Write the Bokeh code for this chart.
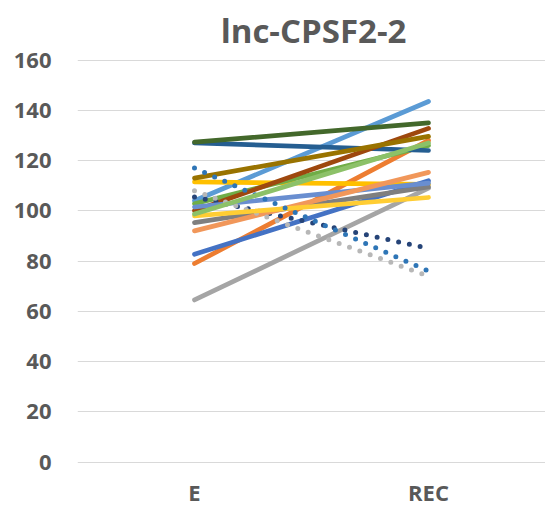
from bokeh.plotting import figure
from bokeh.models import Range1d, FactorRange, FixedTicker, Label, LabelSet, ColumnDataSource
from bokeh.core.properties import value
from bokeh.embed import file_html
from bokeh.resources import INLINE

categories = ["E", "REC"]
y_ticks = [0, 20, 40, 60, 80, 100, 120, 140, 160]
e_values = [104, 79, 64.5, 111.5, 82.7, 102.8, 127, 100, 95.3,
            113, 105.5, 127.3, 101.5, 92, 108, 98, 117, 98.7]
rec_values = [143.5, 128, 109, 110.5, 112, 126, 124, 132.8, 109.5,
              129.6, 85, 135, 111, 115.3, 74, 105.3, 76, 127]

colors = ["#5B9BD5", "#ED7D31", "#A5A5A5", "#FFC000", "#4472C4", "#70AD47",
          "#255E91", "#9E480E", "#7F7F7F", "#997300", "#264478", "#43682B",
          "#698ED0", "#F1975A", "#B7B7B7", "#FFCD33", "#2E75B6", "#8CC168"]
dashed = [False, False, False, False, False, False, False, False, False,
          False, True, False, False, False, True, False, True, False]

FONT = "Open Sans"
TXT = "#595959"

p = figure(width=545, height=508, x_range=FactorRange(factors=categories),
           y_range=Range1d(-18.5, 183.7), output_backend="svg", toolbar_location=None,
           min_border_left=77, min_border_right=0, min_border_top=0,
           min_border_bottom=0)
p.outline_line_color = None
p.background_fill_color = "white"
p.border_fill_color = "white"

for e, r, c, d in zip(e_values, rec_values, colors, dashed):
    if d:
        p.line(x=categories, y=[e, r], line_color=c, line_width=5,
               line_cap="round", line_dash="0 11")
    else:
        p.line(x=categories, y=[e, r], line_color=c, line_width=4.7,
               line_cap="round")

p.xaxis.visible = False
p.xgrid.grid_line_color = None
p.ygrid.grid_line_color = "#D9D9D9"
p.ygrid.grid_line_width = 1
p.yaxis.ticker = FixedTicker(ticks=y_ticks)
ax = p.yaxis
ax.axis_line_color = None
ax.major_tick_line_color = None
ax.minor_tick_line_color = None
ax.major_label_text_font = FONT
ax.major_label_text_font_style = "bold"
ax.major_label_text_font_size = "22px"
ax.major_label_text_color = TXT
ax.major_label_standoff = 20

cat_src = ColumnDataSource(data=dict(x=categories, text=categories))
cat_labels = LabelSet(x="x", y=2, y_units="screen", text="text", source=cat_src,
                      text_align="center", text_baseline="bottom",
                      text_font=value(FONT), text_font_style=value("bold"),
                      text_font_size=value("22px"), text_color=value(TXT))
p.add_layout(cat_labels)

title = Label(x=236, y=478, x_units="screen", y_units="screen",
              text="lnc-CPSF2-2", text_align="center", text_baseline="alphabetic",
              text_font=FONT, text_font_style="bold", text_font_size="33px",
              text_color=TXT)
p.add_layout(title)

open("out.html", "w").write(file_html(p, INLINE))
